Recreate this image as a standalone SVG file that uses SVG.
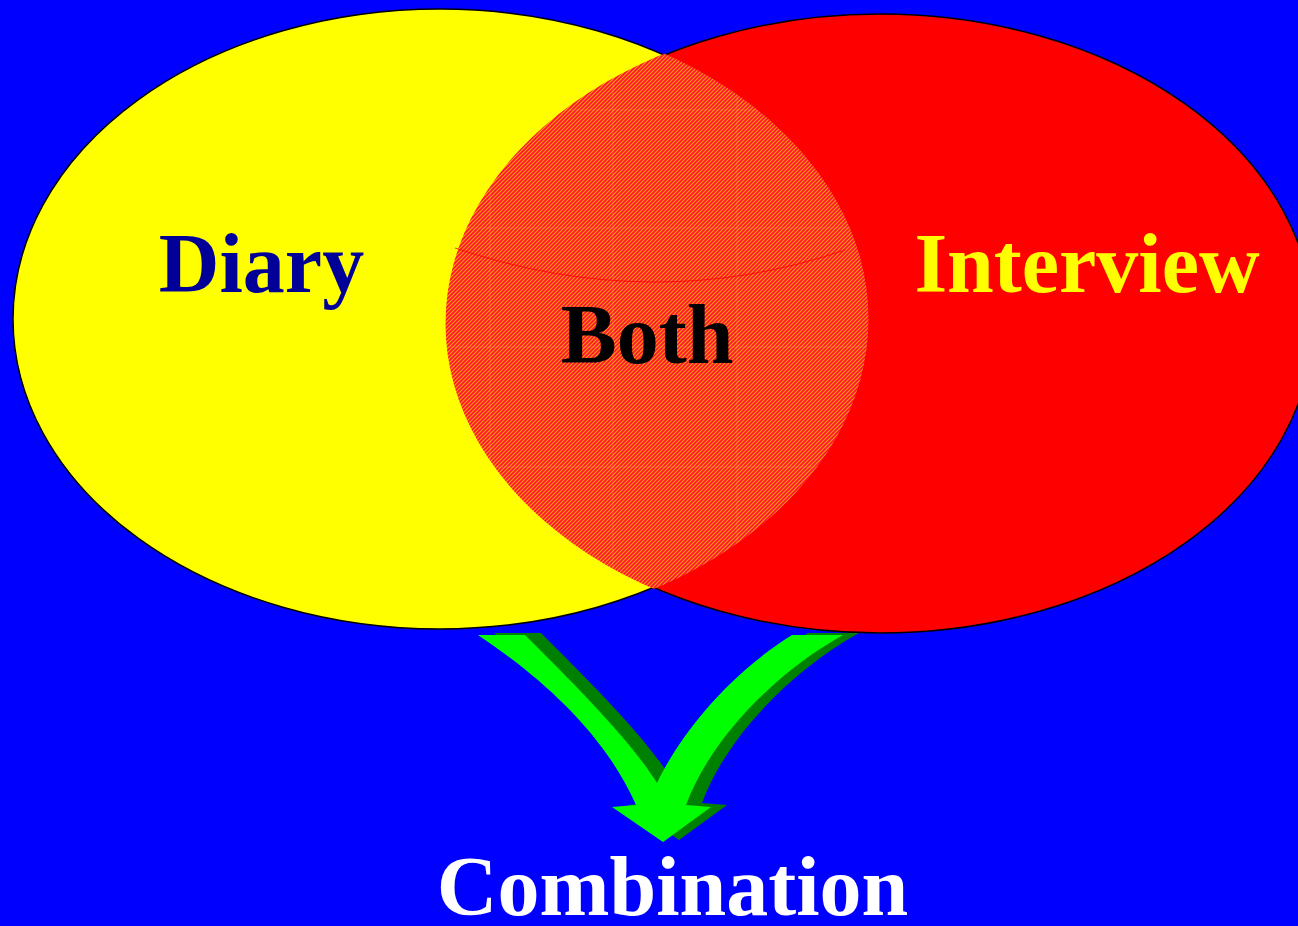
<svg xmlns="http://www.w3.org/2000/svg" width="1298" height="926" viewBox="0 0 1298 926">
  <style>
    .lbl { font-family: "Liberation Serif", "Times New Roman", serif; font-weight: bold; font-size: 84px; text-anchor: middle; }
    .outline { stroke: #000000; stroke-width: 1.5; }
    .seam { stroke: #ffa060; stroke-width: 1; opacity: 0.3; fill: none; }
  </style>
  <defs>
    <pattern id="hatch" patternUnits="userSpaceOnUse" width="4" height="4">
      <rect width="4" height="4" fill="#ff1038"/>
      <path d="M-1,1 L1,-1 M0,4 L4,0 M3,5 L5,3" stroke="#ff9c00" stroke-width="1.2"/>
    </pattern>
    <clipPath id="yellowClip">
      <ellipse cx="440" cy="319" rx="428.5" ry="311.5"/>
    </clipPath>
    <clipPath id="redClip">
      <ellipse cx="880" cy="323.5" rx="434.5" ry="311"/>
    </clipPath>
    <path id="arrowShape" d="M478,635 L525,635 C580,690 630,740 657,783 C675,745 720,680 792,635 L843,635 C780,670 712,735 686,805 L711,807 L663,842 L612,807 L636,805 C605,735 545,680 478,635 Z"/>
  </defs>

  <rect width="1298" height="926" fill="#0000ff"/>

  <g id="diary">
    <ellipse class="outline" cx="440" cy="319" rx="427" ry="310" fill="#ffff00"/>
  </g>
  <g id="interview">
    <ellipse class="outline" cx="880" cy="323.5" rx="433" ry="309.5" fill="#ff0000"/>
  </g>
  <g id="both">
    <g clip-path="url(#yellowClip)">
      <g clip-path="url(#redClip)">
        <rect x="400" y="0" width="500" height="700" fill="url(#hatch)"/>
        <path class="seam" d="M490,0 V926 M613,0 V926 M737,0 V926 M0,110 H1298 M0,228 H1298 M0,347 H1298 M0,467 H1298"/>
      </g>
    </g>
    <path d="M455,248 Q655,315 845,250" fill="none" stroke="#ff0000" stroke-width="1" opacity="0.8"/>
  </g>

  <g id="connectors">
    <use href="#arrowShape" fill="#008000" transform="translate(16,-2)"/>
    <use href="#arrowShape" fill="#00ff00"/>
  </g>

  <g id="labels">
    <text class="lbl" x="261.5" y="292" fill="#000099">Diary</text>
    <text class="lbl" x="1087" y="292" fill="#ffff00">Interview</text>
    <text class="lbl" x="647" y="363" fill="#000000">Both</text>
  </g>
  <g id="combination">
    <text class="lbl" x="672.5" y="915" fill="#ffffff">Combination</text>
  </g>
</svg>
